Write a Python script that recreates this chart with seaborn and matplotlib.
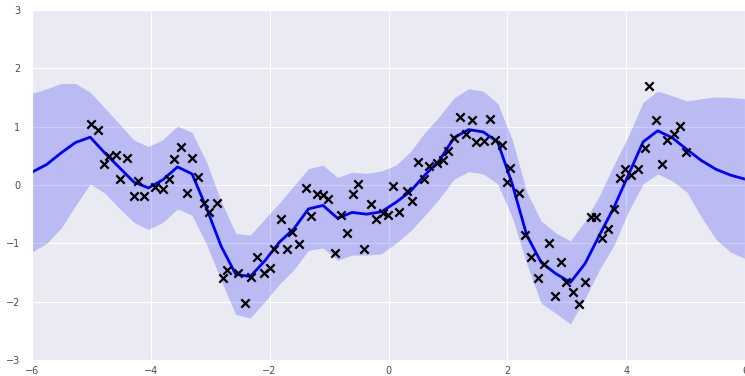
import numpy as np
import matplotlib
matplotlib.use('Agg')
import matplotlib.pyplot as plt
import seaborn as sns

# prediction grid + posterior mean / band
x_grid = np.linspace(-6, 6, 50)
mean = [0.22, 0.35, 0.55, 0.73, 0.82, 0.55, 0.30, 0.05, -0.05, 0.09,
        0.31, 0.19, -0.40, -1.05, -1.53, -1.57, -1.30, -0.98, -0.75, -0.41,
        -0.35, -0.57, -0.47, -0.50, -0.46, -0.30, -0.11, 0.17, 0.42, 0.81,
        0.95, 0.91, 0.74, 0.02, -0.86, -1.33, -1.52, -1.67, -1.35, -0.86,
        -0.38, 0.18, 0.74, 0.93, 0.81, 0.61, 0.42, 0.27, 0.17, 0.10]
upper = [1.57, 1.65, 1.74, 1.74, 1.59, 1.32, 1.05, 0.77, 0.66, 0.78,
         1.01, 0.90, 0.39, -0.28, -0.83, -0.86, -0.58, -0.31, -0.01, 0.28,
         0.34, 0.13, 0.22, 0.20, 0.24, 0.34, 0.57, 0.90, 1.18, 1.49,
         1.65, 1.61, 1.40, 0.78, -0.12, -0.62, -0.82, -0.96, -0.62, -0.18,
         0.35, 0.85, 1.42, 1.61, 1.53, 1.44, 1.48, 1.51, 1.50, 1.48]
lower = [-1.15, -1.00, -0.74, -0.35, 0.02, -0.14, -0.40, -0.64, -0.76, -0.64,
         -0.41, -0.52, -1.02, -1.64, -2.22, -2.28, -2.00, -1.70, -1.45, -1.12,
         -1.08, -1.29, -1.20, -1.20, -1.18, -1.00, -0.79, -0.52, -0.23, 0.10,
         0.23, 0.19, 0.02, -0.55, -1.35, -2.03, -2.20, -2.38, -1.95, -1.45,
         -1.03, -0.45, 0.02, 0.19, 0.07, -0.12, -0.55, -0.93, -1.15, -1.26]

# observed training points
x_obs = [-5.01, -4.89, -4.71, -4.59, -4.79, -4.40, -4.52, -4.21, -4.29, -4.11,
         -3.93, -3.80, -3.69, -3.61, -3.50, -3.31, -3.39, -3.20, -3.10, -2.89,
         -3.02, -2.72, -2.79, -2.54, -2.22, -2.31, -2.10, -1.99, -2.41, -1.81,
         -1.92, -1.70, -1.62, -1.50, -1.39, -1.31, -1.21, -1.11, -1.01, -0.90,
         -0.80, -0.70, -0.60, -0.52, -0.41, -0.29, -0.21, -0.10, -0.01, 0.08,
         0.18, 0.31, 0.39, 0.50, 0.60, 0.69, 0.81, 0.91, 1.00, 1.11,
         1.21, 1.30, 1.41, 1.48, 1.60, 1.71, 1.80, 1.91, 2.05, 1.99,
         2.20, 2.30, 2.39, 2.61, 2.51, 2.70, 2.80, 2.91, 2.98, 3.11,
         3.21, 3.30, 3.41, 3.50, 3.60, 3.70, 3.79, 3.89, 3.98, 4.08,
         4.20, 4.31, 4.39, 4.50, 4.61, 4.69, 4.80, 4.91, 5.00]
y_obs = [1.04, 0.94, 0.49, 0.51, 0.36, 0.47, 0.11, 0.07, -0.18, -0.19,
         -0.04, -0.07, 0.11, 0.44, 0.66, 0.46, -0.14, 0.14, -0.30, -0.31,
         -0.47, -1.45, -1.59, -1.50, -1.23, -1.57, -1.50, -1.42, -2.03, -0.59,
         -1.10, -1.09, -0.80, -1.01, -0.05, -0.53, -0.15, -0.17, -0.24, -1.16,
         -0.51, -0.83, -0.15, 0.02, -1.10, -0.32, -0.59, -0.48, -0.51, -0.01,
         -0.47, -0.11, -0.28, 0.40, 0.11, 0.33, 0.37, 0.43, 0.58, 0.81,
         1.17, 0.87, 1.11, 0.74, 0.75, 1.14, 0.77, 0.69, 0.30, 0.05,
         -0.14, -0.86, -1.24, -1.35, -1.60, -0.99, -1.91, -1.32, -1.66, -1.83,
         -2.04, -1.66, -0.55, -0.55, -0.91, -0.75, -0.41, 0.12, 0.27, 0.17,
         0.27, 0.63, 1.70, 1.11, 0.36, 0.78, 0.87, 1.02, 0.56]

sns.set_style('darkgrid')

fig = plt.figure(figsize=(7.45, 3.76), dpi=100)
ax = fig.add_axes([32 / 745, 16 / 376, 713 / 745, 350 / 376])

ax.fill_between(x_grid, lower, upper, color='blue', alpha=0.2, linewidth=0)
sns.lineplot(x=x_grid, y=mean, color='blue', linewidth=2, ax=ax)
sns.scatterplot(x=x_obs, y=y_obs, marker='x', color='black', s=36,
                linewidth=1.6, ax=ax, zorder=3)

ax.set_xlim(-6, 6)
ax.set_ylim(-3, 3)
ax.set_xticks([-6, -4, -2, 0, 2, 4, 6])
ax.set_yticks([-3, -2, -1, 0, 1, 2, 3])
ax.tick_params(labelsize=7, colors='0.3')
ax.tick_params(axis='x', pad=0.5)
ax.tick_params(axis='y', pad=5)

plt.savefig('out.png', dpi=100)
